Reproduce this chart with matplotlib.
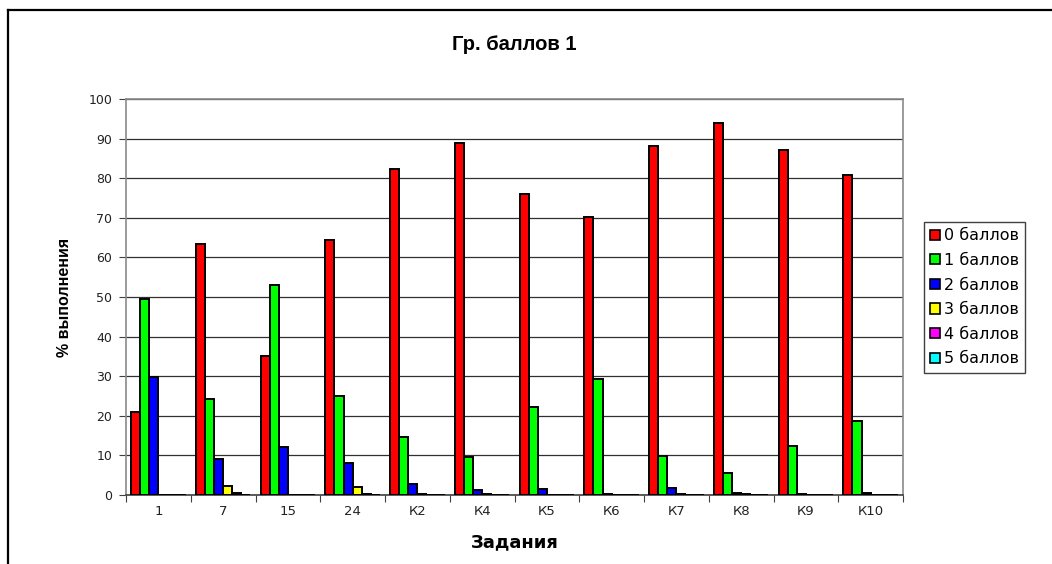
import numpy as np
import matplotlib
matplotlib.use("Agg")
import matplotlib.pyplot as plt
from matplotlib.lines import Line2D
from matplotlib.patches import Patch

plt.rcParams['font.family'] = ['Liberation Sans', 'DejaVu Sans']

tasks = ['1', '7', '15', '24', 'К2', 'К4', 'К5', 'К6', 'К7', 'К8', 'К9', 'К10']
series_names = ['0 баллов', '1 баллов', '2 баллов', '3 баллов', '4 баллов', '5 баллов']
series_colors = ['#ff0000', '#00ff00', '#0000ff', '#ffff00', '#ff00ff', '#00ffff']

score0 = [21.0, 63.5, 35.0, 64.5, 82.2, 89.0, 76.0, 70.3, 88.2, 94.0, 87.2, 80.7]
score1 = [49.5, 24.2, 53.0, 25.0, 14.7, 9.5, 22.3, 29.2, 9.8, 5.5, 12.5, 18.7]
score2 = [29.8, 9.0, 12.2, 8.1, 2.8, 1.3, 1.5, 0.2, 1.7, 0.5, 0.2, 0.6]
score3 = [0.0, 2.3, 0.0, 1.9, 0.2, 0.2, 0.0, 0.0, 0.3, 0.2, 0.0, 0.0]
score4 = [0.0, 0.4, 0.0, 0.2, 0.0, 0.0, 0.0, 0.0, 0.0, 0.0, 0.0, 0.0]
score5 = [0.0, 0.1, 0.0, 0.0, 0.0, 0.0, 0.0, 0.0, 0.0, 0.0, 0.0, 0.0]
all_scores = [score0, score1, score2, score3, score4, score5]

wide = 'DejaVu Sans'  # the old chart's text is stretched sideways, DejaVu comes closest

fig = plt.figure(figsize=(10.52, 5.64), dpi=100)
ax = fig.add_axes([126/1052, 1 - 495/564, (903 - 126)/1052, (495 - 99)/564])

x = np.arange(len(tasks))
w = 0.14
for i, vals in enumerate(all_scores):
    ax.bar(x - 2.5*w + i*w, vals, w, color=series_colors[i], edgecolor='black',
           linewidth=1.4, label=series_names[i], zorder=3)

ax.set_xlim(-0.5, len(tasks) - 0.5)
ax.set_ylim(0, 100)
ax.set_yticks(range(0, 101, 10))
ax.yaxis.grid(True, color='#303030', linewidth=0.9, zorder=0)
ax.tick_params(axis='y', labelsize=9, length=5, color='#404040', pad=5, labelcolor='#222222')

# group boundaries get the tick marks, centres get the labels
ax.set_xticks(np.arange(-0.5, len(tasks)), minor=False)
ax.set_xticklabels([])
ax.set_xticks(x, minor=True)
ax.set_xticklabels(tasks, minor=True)
ax.tick_params(axis='x', which='major', length=5, color='#404040')
ax.tick_params(axis='x', which='minor', length=0, labelsize=9.5, pad=7, labelcolor='#222222')
for lbl in ax.get_xticklabels(minor=True) + ax.get_yticklabels():
    lbl.set_family(wide)

for side in ['top', 'right', 'left']:
    ax.spines[side].set_color('#8a8a8a')
    ax.spines[side].set_linewidth(1.2)
ax.spines['bottom'].set_color('#404040')
ax.spines['bottom'].set_linewidth(1.2)

ax.set_title('Гр. баллов 1', fontsize=14.5, fontweight='bold', pad=35)
ax.set_xlabel('Задания', fontsize=13, fontweight='bold', labelpad=11, family=wide)
ax.set_ylabel('% выполнения', fontsize=11.5, fontweight='bold', labelpad=12)

handles = [Patch(facecolor=c, edgecolor='black', linewidth=1.2) for c in series_colors]
leg = fig.legend(handles, series_names, loc='upper left',
                 bbox_to_anchor=(924/1052, 1 - 222/564), bbox_transform=fig.transFigure,
                 borderaxespad=0, fancybox=False, edgecolor='#404040',
                 prop={'family': wide, 'size': 11.5},
                 handlelength=0.6, handleheight=0.6, handletextpad=0.25,
                 labelspacing=0.6, borderpad=0.4, framealpha=1)
leg.get_frame().set_linewidth(1.0)

# outer frame of the chart object
fig.add_artist(Line2D([8/1052, 8/1052], [0, 1 - 10/564], color='black', linewidth=1.6,
                      transform=fig.transFigure))
fig.add_artist(Line2D([8/1052, 1], [1 - 10/564, 1 - 10/564], color='black', linewidth=1.6,
                      transform=fig.transFigure))

fig.savefig('out.png', dpi=100)
